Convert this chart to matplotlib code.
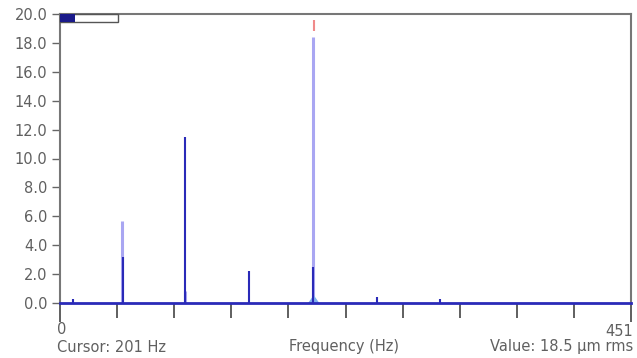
import matplotlib
matplotlib.use("Agg")
import matplotlib.pyplot as plt
import numpy as np

# Data
fmax = 451
y_ticks = [0, 2, 4, 6, 8, 10, 12, 14, 16, 18, 20]
y_labels = ["0.0", "2.0", "4.0", "6.0", "8.0", "10.0", "12.0", "14.0", "16.0", "18.0", "20.0"]
# Light (lavender) spectrum peaks
light_freqs = [49, 99, 200]
light_amps = [5.7, 0.8, 18.4]
# Dark blue spectrum peaks
dark_freqs = [10, 49.5, 98.5, 149, 200, 250, 300]
dark_amps = [0.3, 3.2, 11.5, 2.2, 2.5, 0.4, 0.3]
cursor_freq = 201

fig = plt.figure(figsize=(6.37, 3.58), dpi=100)
ax = fig.add_axes([60/637, 1-303/358, (631-60)/637, (303-14)/358])

ax.vlines(light_freqs, 0, light_amps, color="#a9a6f2", lw=2.2, zorder=2)
ax.vlines(dark_freqs, 0, dark_amps, color="#2a2ab8", lw=1.5, zorder=3)
# small bump at cursor peak
ax.fill_between([196, 200, 204], [0, 0.5, 0], color="#7fb0ee", zorder=2)
# cursor marker
ax.vlines([cursor_freq], 18.8, 19.6, color="#f08a8a", lw=1.5, zorder=4)

ax.set_xlim(0, fmax)
ax.set_ylim(0, 20)

# legend-like box top-left
ax.add_patch(plt.Rectangle((0, 19.45), 46, 0.55, fill=False, ec="#555555", lw=1, zorder=5, clip_on=False))
ax.add_patch(plt.Rectangle((0, 19.45), 12, 0.55, fc="#1a1a8a", ec="none", zorder=6, clip_on=False))

tc = "#606060"
fs = 10.5

ax.set_yticks(y_ticks)
ax.set_yticklabels(y_labels)
ax.tick_params(axis="y", length=6, width=1, color="#666666", labelcolor=tc, labelsize=fs, pad=3)

ax.set_xticks([0, fmax])
ax.set_xticklabels([])
ax.set_xticks(np.arange(1, 10) * fmax / 10, minor=True)
ax.tick_params(axis="x", which="both", length=11, width=1.2, color="#444444", direction="out")
ax.tick_params(axis="x", which="major", length=14)

for s in ["top", "right", "left"]:
    ax.spines[s].set_color("#777777")
    ax.spines[s].set_linewidth(1.5)
ax.spines["bottom"].set_color("#2a2ab8")
ax.spines["bottom"].set_linewidth(2)

fig.text(62/637, 1-330/358, "0", color=tc, fontsize=fs, ha="center", va="center")
fig.text(633/637, 1-331/358, "451", color=tc, fontsize=fs, ha="right", va="center")
fig.text(57/637, 1-347/358, "Cursor: 201 Hz", color=tc, fontsize=fs, ha="left", va="center")
fig.text(344/637, 1-347/358, "Frequency (Hz)", color=tc, fontsize=fs, ha="center", va="center")
fig.text(633/637, 1-347/358, "Value: 18.5 \u00b5m rms", color=tc, fontsize=fs, ha="right", va="center")

fig.savefig("out.png", dpi=100)
